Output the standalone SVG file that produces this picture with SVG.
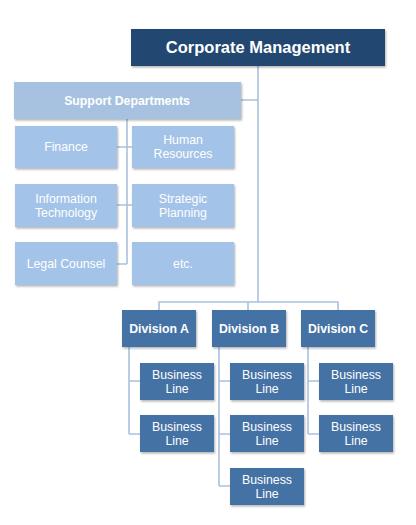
<svg xmlns="http://www.w3.org/2000/svg" width="416" height="525" viewBox="0 0 416 525">
<defs>
<filter id="sh" x="-10%" y="-10%" width="130%" height="140%">
<feDropShadow dx="1" dy="1.5" stdDeviation="1" flood-color="#000" flood-opacity="0.3"/>
</filter>
<style>
.lnk{fill:none;stroke:#a9c1de;stroke-width:1.6}
.top{fill:#21466f;filter:url(#sh)}
.sup{fill:#a7c2e0;filter:url(#sh)}
.sub{fill:#a4c3e8;filter:url(#sh)}
.div{fill:#4572a5;filter:url(#sh)}
text{font-family:"Liberation Sans",Arial,sans-serif;fill:#fff;text-anchor:middle}
.b{font-weight:bold}
.t1{font-size:16.5px}
.t2{font-size:12.3px}
.t3{font-size:12.3px}
</style>
</defs>
<rect width="416" height="525" fill="#fff"/>
<g id="connectors">
<path class="lnk" d="M258,66V302M241,100H258"/>
<path class="lnk" d="M127,119V264M117,147H132M117,205H132M117,264H127"/>
<path class="lnk" d="M159,310V302H338V310M248,302V310"/>
<path class="lnk" d="M129,347V434M129,381H140M129,434H140"/>
<path class="lnk" d="M219,347V486M219,381H230M219,434H230M219,486H230"/>
<path class="lnk" d="M308,347V434M308,381H319M308,434H319"/>
</g>
<g id="corporate"><rect class="top" x="131" y="29" width="254" height="37"/><text class="b t1" x="258" y="53">Corporate Management</text></g>
<g id="support"><rect class="sup" x="14" y="82" width="227" height="37"/><text class="b t2" x="127" y="105">Support Departments</text></g>
<g id="finance"><rect class="sub" x="15" y="126" width="102" height="42"/><text class="t3" x="66" y="151">Finance</text></g>
<g id="hr"><rect class="sub" x="132" y="126" width="102" height="42"/><text class="t3" x="183" y="144">Human</text><text class="t3" x="183" y="158">Resources</text></g>
<g id="it"><rect class="sub" x="15" y="184" width="102" height="43"/><text class="t3" x="66" y="203">Information</text><text class="t3" x="66" y="217">Technology</text></g>
<g id="sp"><rect class="sub" x="132" y="184" width="102" height="43"/><text class="t3" x="183" y="203">Strategic</text><text class="t3" x="183" y="217">Planning</text></g>
<g id="legal"><rect class="sub" x="15" y="242" width="102" height="43"/><text class="t3" x="66" y="268">Legal Counsel</text></g>
<g id="etc"><rect class="sub" x="132" y="242" width="102" height="43"/><text class="t3" x="183" y="268">etc.</text></g>
<g id="divA"><rect class="div" x="122" y="310" width="74" height="37"/><text class="b t2" x="159" y="333">Division A</text></g>
<g id="divB"><rect class="div" x="212" y="310" width="74" height="37"/><text class="b t2" x="249" y="333">Division B</text></g>
<g id="divC"><rect class="div" x="301" y="310" width="74" height="37"/><text class="b t2" x="338" y="333">Division C</text></g>
<g id="a1"><rect class="div" x="140" y="363" width="74" height="37"/><text class="t3" x="177" y="379">Business</text><text class="t3" x="177" y="393">Line</text></g>
<g id="a2"><rect class="div" x="140" y="415" width="74" height="37"/><text class="t3" x="177" y="431">Business</text><text class="t3" x="177" y="445">Line</text></g>
<g id="b1"><rect class="div" x="230" y="363" width="74" height="37"/><text class="t3" x="267" y="379">Business</text><text class="t3" x="267" y="393">Line</text></g>
<g id="b2"><rect class="div" x="230" y="415" width="74" height="37"/><text class="t3" x="267" y="431">Business</text><text class="t3" x="267" y="445">Line</text></g>
<g id="b3"><rect class="div" x="230" y="468" width="74" height="37"/><text class="t3" x="267" y="484">Business</text><text class="t3" x="267" y="498">Line</text></g>
<g id="c1"><rect class="div" x="319" y="363" width="74" height="37"/><text class="t3" x="356" y="379">Business</text><text class="t3" x="356" y="393">Line</text></g>
<g id="c2"><rect class="div" x="319" y="415" width="74" height="37"/><text class="t3" x="356" y="431">Business</text><text class="t3" x="356" y="445">Line</text></g>
</svg>
